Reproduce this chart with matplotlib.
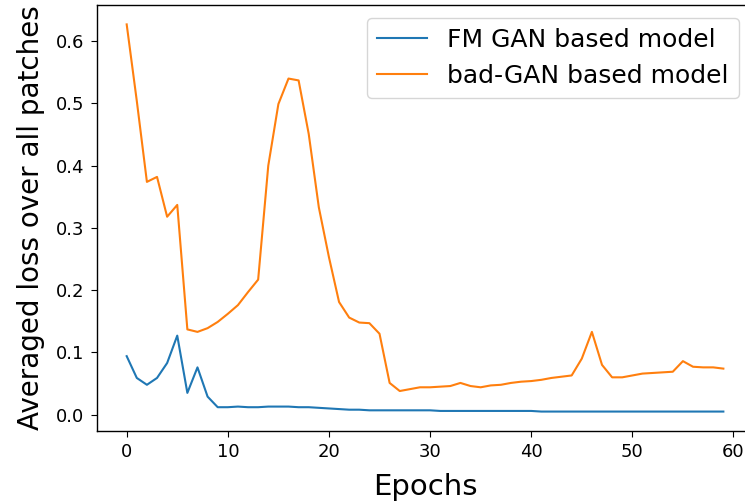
import matplotlib
matplotlib.use("Agg")
import matplotlib.pyplot as plt

epochs = list(range(60))

fm_gan = [0.094, 0.059, 0.048, 0.059, 0.083, 0.127, 0.035, 0.076, 0.029, 0.012,
          0.012, 0.013, 0.012, 0.012, 0.013, 0.013, 0.013, 0.012, 0.012, 0.011,
          0.010, 0.009, 0.008, 0.008, 0.007, 0.007, 0.007, 0.007, 0.007, 0.007,
          0.007, 0.006, 0.006, 0.006, 0.006, 0.006, 0.006, 0.006, 0.006, 0.006,
          0.006, 0.005, 0.005, 0.005, 0.005, 0.005, 0.005, 0.005, 0.005, 0.005,
          0.005, 0.005, 0.005, 0.005, 0.005, 0.005, 0.005, 0.005, 0.005, 0.005]

bad_gan = [0.627, 0.504, 0.374, 0.382, 0.318, 0.337, 0.137, 0.133, 0.139, 0.149,
           0.162, 0.176, 0.197, 0.217, 0.400, 0.499, 0.540, 0.537, 0.451, 0.333,
           0.253, 0.181, 0.156, 0.148, 0.147, 0.130, 0.051, 0.038, 0.041, 0.044,
           0.044, 0.045, 0.046, 0.051, 0.046, 0.044, 0.047, 0.048, 0.051, 0.053,
           0.054, 0.056, 0.059, 0.061, 0.063, 0.090, 0.133, 0.080, 0.060, 0.060,
           0.063, 0.066, 0.067, 0.068, 0.069, 0.086, 0.077, 0.076, 0.076, 0.074]

fig = plt.figure(figsize=(7.45, 5.04), dpi=100)
# the original is cropped on the right, so the axes run past the figure edge
ax = fig.add_axes([0.130, 0.145, 0.881, 0.845])
ax.plot(epochs, fm_gan, label="FM GAN based model")
ax.plot(epochs, bad_gan, label="bad-GAN based model")
ax.set_xlabel("Epochs", fontsize=21, labelpad=8)
ax.set_ylabel("Averaged loss over all patches", fontsize=20, labelpad=8)
ax.tick_params(labelsize=13, length=4.5, pad=4.5)
for s in ax.spines.values():
    s.set_linewidth(1.0)
ax.legend(fontsize=18, loc="upper right", bbox_to_anchor=(0.997, 1.0))
fig.savefig("out.png", dpi=100)
